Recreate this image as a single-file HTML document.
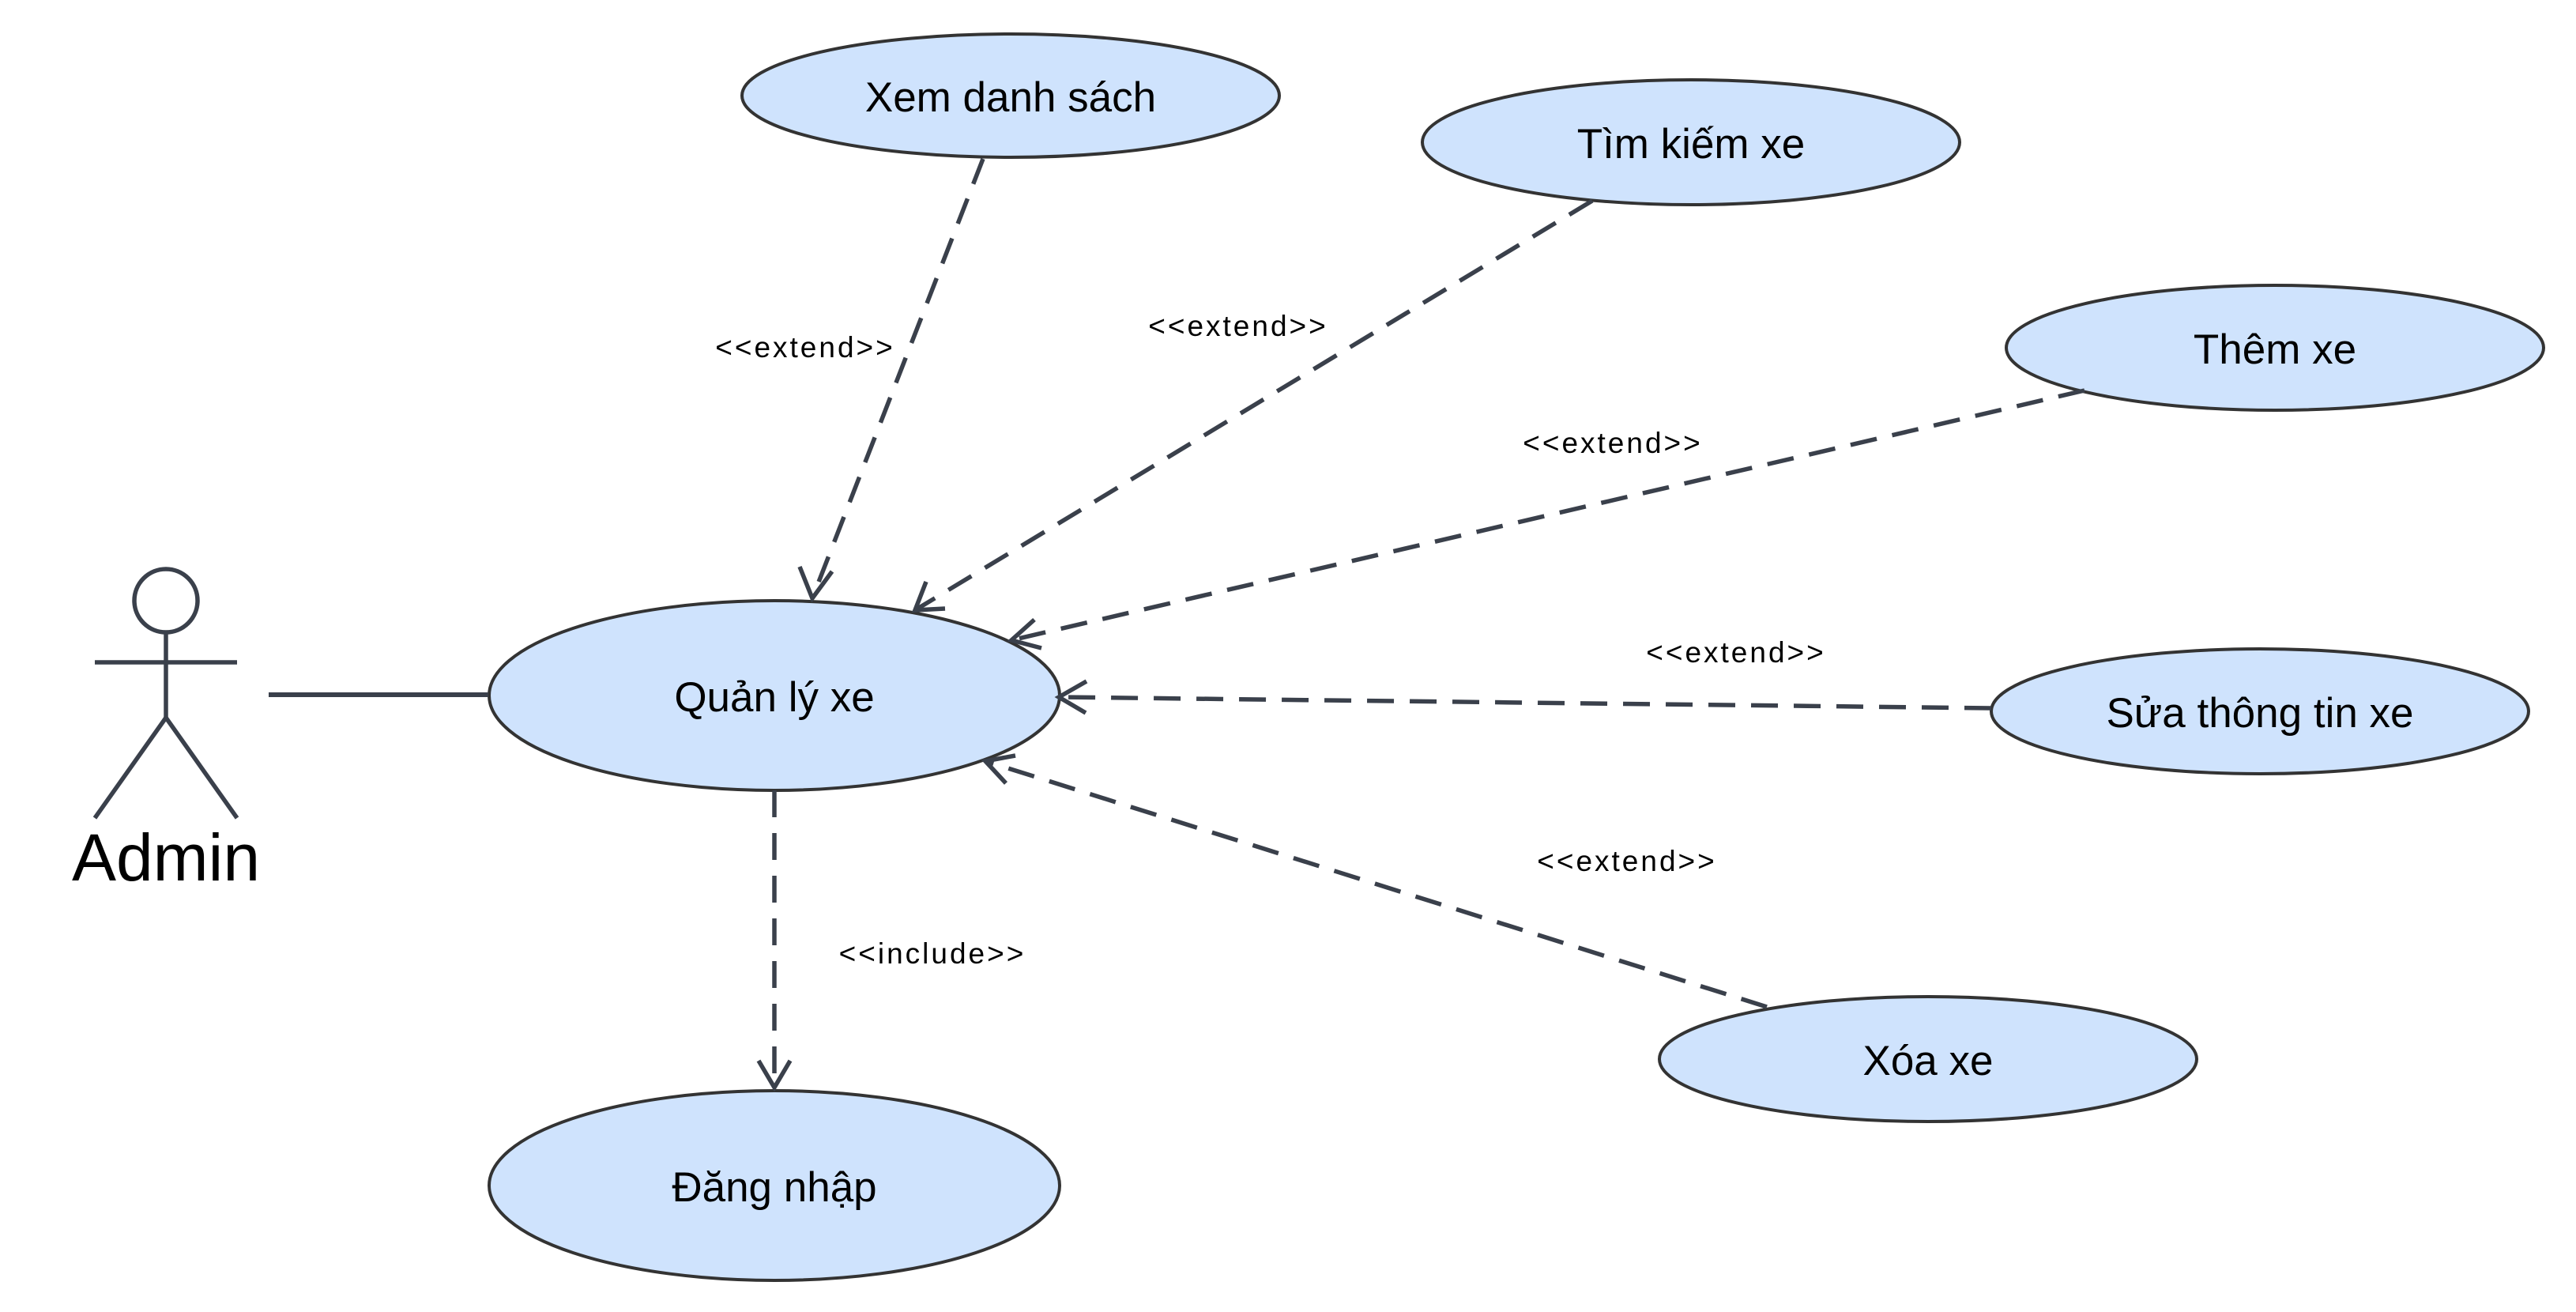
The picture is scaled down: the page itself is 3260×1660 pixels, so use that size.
<!DOCTYPE html>
<html><head><meta charset="utf-8"><style>
html,body{margin:0;padding:0;background:#fff;}
svg{display:block;}
</style></head><body>
<svg width="3260" height="1660" viewBox="0 0 3260 1660" xmlns="http://www.w3.org/2000/svg">
<g fill="#cfe3fd" stroke="#333333" stroke-width="4">
<ellipse cx="1279" cy="121" rx="340" ry="78"/>
<ellipse cx="2140" cy="180" rx="340" ry="79"/>
<ellipse cx="2879" cy="440" rx="340" ry="79"/>
<ellipse cx="2860" cy="900" rx="340" ry="79"/>
<ellipse cx="2440" cy="1340" rx="340" ry="79"/>
<ellipse cx="980" cy="880" rx="361" ry="120"/>
<ellipse cx="980" cy="1500" rx="361" ry="120"/>
</g>
<g stroke="#3a404b" stroke-width="5.5" fill="none" stroke-linecap="butt">
<circle cx="210" cy="760" r="40"/>
<line x1="120" y1="838" x2="300" y2="838"/>
<line x1="210" y1="800" x2="210" y2="908"/>
<line x1="210" y1="908" x2="120" y2="1035"/>
<line x1="210" y1="908" x2="300" y2="1035"/>
<line x1="340" y1="879" x2="618" y2="879" stroke-width="6"/>
<g stroke-dasharray="34,20">
<line x1="1244" y1="201" x2="1028" y2="757"/>
<line x1="2015" y1="254" x2="1158" y2="772"/>
<line x1="2638" y1="494" x2="1280" y2="810"/>
<line x1="2520" y1="896" x2="1340" y2="882"/>
<line x1="2236" y1="1274" x2="1247" y2="963"/>
<line x1="980" y1="1000" x2="980" y2="1376"/>
</g>
<path d="M1012,717 L1028,757 L1053,723"/>
<path d="M1172,736 L1158,772 L1196,770"/>
<path d="M1309,784 L1280,810 L1318,820"/>
<path d="M1375,862 L1340,882 L1374,902"/>
<path d="M1285,956 L1247,963 L1273,991"/>
<path d="M960,1342 L980,1376 L1000,1342"/>
</g>
<g font-family="'Liberation Sans', 'Noto Sans CJK SC', sans-serif" fill="#000" text-anchor="middle">
<g font-size="53">
<text x="1279" y="141">Xem danh sách</text>
<text x="2140" y="200">Tìm kiếm xe</text>
<text x="2879" y="460">Thêm xe</text>
<text x="2860" y="920">Sửa thông tin xe</text>
<text x="2440" y="1360">Xóa xe</text>
<text x="980" y="900">Quản lý xe</text>
<text x="980" y="1520">Đăng nhập</text>
</g>
<text x="210" y="1114" font-size="84">Admin</text>
<g font-size="37" letter-spacing="3">
<text x="1019" y="452">&lt;&lt;extend&gt;&gt;</text>
<text x="1567" y="425">&lt;&lt;extend&gt;&gt;</text>
<text x="2041" y="573">&lt;&lt;extend&gt;&gt;</text>
<text x="2197" y="838">&lt;&lt;extend&gt;&gt;</text>
<text x="2059" y="1102">&lt;&lt;extend&gt;&gt;</text>
<text x="1180" y="1219">&lt;&lt;include&gt;&gt;</text>
</g>
</g>
</svg>
</body></html>
